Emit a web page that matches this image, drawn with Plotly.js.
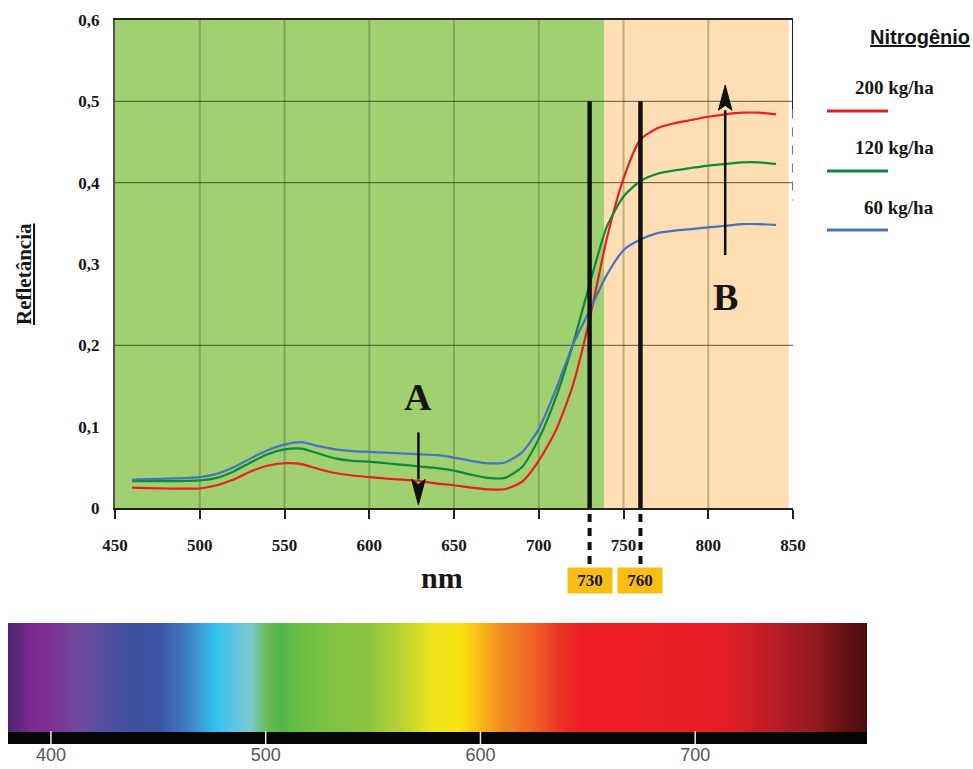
<!DOCTYPE html>
<html>
<head>
<meta charset="utf-8">
<script src="https://cdn.plot.ly/plotly-3.0.1.min.js"></script>
<style>
  html, body { margin: 0; padding: 0; background: #ffffff; }
  #chart { width: 973px; height: 769px; }
</style>
</head>
<body>
<div id="chart"></div>
<script>
// ---- Reflectance spectra of the canopy for three nitrogen rates ----
const wavelengths = [460, 480, 500, 510, 520, 530, 540, 550, 560, 570, 580, 590, 600,
  610, 620, 630, 640, 650, 660, 670, 680, 690, 700, 710, 720, 730, 740, 750, 760,
  770, 780, 790, 800, 810, 820, 830, 840];

const refl200 = [0.025, 0.024, 0.024, 0.028, 0.035, 0.045, 0.052, 0.055, 0.054, 0.048,
  0.043, 0.040, 0.038, 0.036, 0.035, 0.033, 0.030, 0.028, 0.025, 0.023, 0.023, 0.032,
  0.058, 0.095, 0.150, 0.232, 0.330, 0.405, 0.453, 0.467, 0.473, 0.477, 0.481, 0.484,
  0.486, 0.486, 0.484];

const refl120 = [0.033, 0.033, 0.034, 0.037, 0.045, 0.056, 0.066, 0.072, 0.073, 0.067,
  0.061, 0.058, 0.057, 0.055, 0.053, 0.051, 0.049, 0.046, 0.041, 0.037, 0.037, 0.050,
  0.085, 0.135, 0.200, 0.275, 0.345, 0.383, 0.402, 0.411, 0.415, 0.418, 0.421, 0.423,
  0.425, 0.425, 0.423];

const refl60 = [0.035, 0.036, 0.038, 0.042, 0.050, 0.061, 0.071, 0.078, 0.081, 0.076,
  0.072, 0.070, 0.069, 0.068, 0.067, 0.066, 0.065, 0.062, 0.058, 0.055, 0.056, 0.068,
  0.097, 0.145, 0.200, 0.243, 0.286, 0.317, 0.330, 0.338, 0.341, 0.343, 0.345, 0.347,
  0.349, 0.349, 0.348];

const seriesNames = ['200 kg/ha', '120 kg/ha', '60 kg/ha'];
const legendTitle = 'Nitrogênio';

// axis ticks
const xTicks = [450, 500, 550, 600, 650, 700, 750, 800, 850];
const yTicks = [0, 0.1, 0.2, 0.3, 0.4, 0.5, 0.6];
const yTickText = ['0', '0,1', '0,2', '0,3', '0,4', '0,5', '0,6'];

// reference lines
const gridNm = [500, 550, 600, 650, 700, 750, 800];
const gridRefl = [0.2, 0.4, 0.5];
const regionEdges = [450, 738.5, 847.5];   // visible | near-infrared
const markerNm = [730, 760];
const markerTop = 0.5;

// visible-light colour bar
const specStopsNm = [380, 392, 400, 414, 423, 439, 451, 464, 476, 485, 493, 501, 507,
  516, 532, 548, 563, 578, 590, 597, 602, 610, 624, 637, 647, 709, 725, 740, 755, 768, 780];
const specStopsColor = ['#4e2470', '#7d2a92', '#7e3092', '#6b4a9c', '#574d9e', '#3c4f9f',
  '#3b56a4', '#3f80c2', '#30c0ee', '#5cc6e2', '#76c8cc', '#6cba52', '#4fb848', '#6cbe45',
  '#80c341', '#8cc540', '#b8d232', '#eee41a', '#f8e412', '#f9c814', '#f8b016', '#f28a22',
  '#ef6624', '#ec3424', '#ec1c24', '#e81c24', '#d21e28', '#b01c26', '#951a1e', '#6a1214',
  '#4a0c0c'];
const specTicks = [400, 500, 600, 700];

// ---- page geometry ----
const W = 973, H = 769;
const M = { l: 8, r: 106, t: 20, b: 25 };
const plotW = W - M.l - M.r, plotH = H - M.t - M.b;
const px = x => (x - M.l) / plotW;          // pixel column -> paper x
const py = y => (H - M.b - y) / plotH;      // pixel row -> paper y

const SERIF = 'Liberation Serif, Times New Roman, serif';
const SANS = 'Liberation Sans, Arial, sans-serif';
const INK = '#161616';
const seriesColors = ['#ec1c24', '#0b8a3a', '#4472c4'];
const regionColors = ['#a1d070', '#fedeb2'];

// ---- traces ----
const seriesY = [refl200, refl120, refl60];
const traces = seriesY.map((ys, i) => ({
  type: 'scatter', mode: 'lines', name: seriesNames[i],
  x: wavelengths, y: ys, xaxis: 'x', yaxis: 'y',
  line: { color: seriesColors[i], width: 2.2, shape: 'spline', smoothing: 0.6 },
  hoverinfo: 'skip', showlegend: false
}));

const spectrumNm = [];
for (let w = specStopsNm[0]; w <= specStopsNm[specStopsNm.length - 1]; w++) spectrumNm.push(w);
const span = specStopsNm[specStopsNm.length - 1] - specStopsNm[0];
traces.push({
  type: 'heatmap', xaxis: 'x2', yaxis: 'y2',
  x: spectrumNm, y: [0], z: [spectrumNm],
  zmin: specStopsNm[0], zmax: specStopsNm[specStopsNm.length - 1],
  colorscale: specStopsNm.map((nm, i) => [(nm - specStopsNm[0]) / span, specStopsColor[i]]),
  showscale: false, hoverinfo: 'skip'
});

// ---- shapes ----
const shapes = [];

// coloured background bands
for (let i = 0; i < regionColors.length; i++) {
  shapes.push({ type: 'rect', layer: 'below', xref: 'x', yref: 'y',
    x0: regionEdges[i], x1: regionEdges[i + 1], y0: 0, y1: 0.6,
    fillcolor: regionColors[i], line: { width: 0 } });
}
// vertical grid
gridNm.forEach(v => shapes.push({ type: 'line', layer: 'between', xref: 'x', yref: 'y',
  x0: v, x1: v, y0: 0, y1: 0.6, line: { color: 'rgba(70,80,40,0.33)', width: 2 } }));
// horizontal grid
gridRefl.forEach(v => shapes.push({ type: 'line', layer: 'between', xref: 'x', yref: 'y',
  x0: 450, x1: 850, y0: v, y1: v, line: { color: 'rgba(30,45,25,0.75)', width: 1 } }));

// partial right frame
shapes.push({ type: 'line', xref: 'x', yref: 'y', x0: 850, x1: 850, y0: 0.6, y1: 0.49,
  line: { color: '#222', width: 2 } });
shapes.push({ type: 'line', xref: 'x', yref: 'y', x0: 850, x1: 850, y0: 0.49, y1: 0.378,
  line: { color: '#777', width: 2, dash: 'dash' } });

// red-edge markers
markerNm.forEach(v => {
  shapes.push({ type: 'line', layer: 'above', xref: 'x', yref: 'y',
    x0: v, x1: v, y0: 0, y1: markerTop, line: { color: '#111', width: 4.5 } });
  shapes.push({ type: 'line', layer: 'above', xref: 'x', yref: 'paper',
    x0: v, x1: v, y0: py(514), y1: py(565), line: { color: '#111', width: 4, dash: '8px,6px' } });
});

// arrows A (down) and B (up)
const arrowDefs = [
  { text: 'A', nm: 629, tail: 0.093, tip: 0.004, textY: 0.1365 },
  { text: 'B', nm: 810, tail: 0.311, tip: 0.520, textY: 0.2595 }
];
const headLen = 0.031, headHalf = 4.0;
arrowDefs.forEach(a => {
  const dir = Math.sign(a.tip - a.tail);
  const base = a.tip - dir * headLen;
  shapes.push({ type: 'line', layer: 'above', xref: 'x', yref: 'y',
    x0: a.nm, x1: a.nm, y0: a.tail, y1: base, line: { color: '#111', width: 2.5 } });
  shapes.push({ type: 'path', layer: 'above', xref: 'x', yref: 'y',
    path: `M ${a.nm - headHalf},${base} L ${a.nm},${a.tip} L ${a.nm + headHalf},${base} L ${a.nm},${base + dir * 0.006} Z`,
    fillcolor: '#111', line: { color: '#111', width: 1 } });
});

// colour-bar base strip with white ticks
shapes.push({ type: 'rect', xref: 'x2', yref: 'paper', x0: specStopsNm[0], x1: specStopsNm[specStopsNm.length - 1],
  y0: py(744), y1: py(732), fillcolor: '#050505', line: { width: 0 } });
specTicks.forEach(v => shapes.push({ type: 'line', xref: 'x2', yref: 'paper',
  x0: v, x1: v, y0: py(744), y1: py(731), line: { color: '#e8e8e8', width: 1.5 } }));

// legend swatches
const legendTextY = [87, 147, 207];
const legendLineY = [111, 171, 230];
seriesNames.forEach((n, i) => shapes.push({ type: 'line', xref: 'paper', yref: 'paper',
  x0: px(827), x1: px(888), y0: py(legendLineY[i]), y1: py(legendLineY[i]),
  line: { color: seriesColors[i], width: 3 } }));

// ---- annotations ----
const annotations = [];
arrowDefs.forEach(a => annotations.push({ xref: 'x', yref: 'y', x: a.nm, y: a.textY,
  text: a.text, showarrow: false, xanchor: 'center', yanchor: 'middle',
  font: { family: SERIF, size: 38, color: INK, weight: 700 } }));

markerNm.forEach(v => annotations.push({ xref: 'x', yref: 'paper', x: v, y: py(580),
  text: String(v), showarrow: false, xanchor: 'center', yanchor: 'middle',
  bgcolor: '#f9be14', width: 40, height: 21, borderpad: 2,
  font: { family: SERIF, size: 17, color: INK, weight: 700 } }));

annotations.push({ xref: 'x', yref: 'paper', x: 643, y: py(577), text: 'nm', showarrow: false,
  xanchor: 'center', yanchor: 'middle', font: { family: SERIF, size: 30, color: INK, weight: 700 } });
annotations.push({ xref: 'paper', yref: 'paper', x: px(24), y: py(274), text: '<u>Refletância</u>',
  textangle: -90, showarrow: false, xanchor: 'center', yanchor: 'middle',
  font: { family: SERIF, size: 21, color: INK, weight: 700 } });
annotations.push({ xref: 'paper', yref: 'paper', x: px(972), y: py(37), text: '<u>' + legendTitle + '</u>',
  showarrow: false, xanchor: 'right', yanchor: 'middle',
  font: { family: SANS, size: 20, color: INK, weight: 700 } });
seriesNames.forEach((n, i) => annotations.push({ xref: 'paper', yref: 'paper',
  x: px(936), y: py(legendTextY[i]), text: n, showarrow: false, xanchor: 'right', yanchor: 'middle',
  font: { family: SERIF, size: 19, color: INK, weight: 700 } }));

// ---- layout ----
const tickFont = { family: SERIF, size: 17, color: INK, weight: 700 };
const layout = {
  width: W, height: H, margin: M,
  paper_bgcolor: '#ffffff', plot_bgcolor: '#ffffff',
  showlegend: false,
  xaxis: {
    domain: [px(115), px(793)], anchor: 'y', range: [450, 850],
    tickvals: xTicks, ticktext: xTicks.map(String), tickfont: tickFont,
    showgrid: false, zeroline: false,
    showline: true, linecolor: '#222', linewidth: 2, mirror: true,
    ticks: 'outside', ticklen: 9, tickwidth: 2, tickcolor: '#222', ticklabelstandoff: 12
  },
  yaxis: {
    domain: [py(508), py(20)], anchor: 'x', range: [0, 0.6],
    tickvals: yTicks, ticktext: yTickText, tickfont: tickFont,
    showgrid: false, zeroline: false,
    showline: true, linecolor: '#555', linewidth: 2,
    ticks: '', ticklabelstandoff: 10
  },
  xaxis2: {
    domain: [0, 1], anchor: 'y2', range: [specStopsNm[0], specStopsNm[specStopsNm.length - 1]],
    tickvals: specTicks, ticktext: specTicks.map(String),
    tickfont: { family: SANS, size: 18, color: '#555555' },
    showgrid: false, zeroline: false, showline: false, ticks: '', ticklabelstandoff: 10
  },
  yaxis2: {
    domain: [py(732), py(623)], anchor: 'x2', range: [-0.5, 0.5],
    showgrid: false, zeroline: false, showline: false, showticklabels: false, ticks: ''
  },
  shapes: shapes,
  annotations: annotations
};

Plotly.newPlot('chart', traces, layout, { staticPlot: true, displayModeBar: false });
</script>
</body>
</html>
